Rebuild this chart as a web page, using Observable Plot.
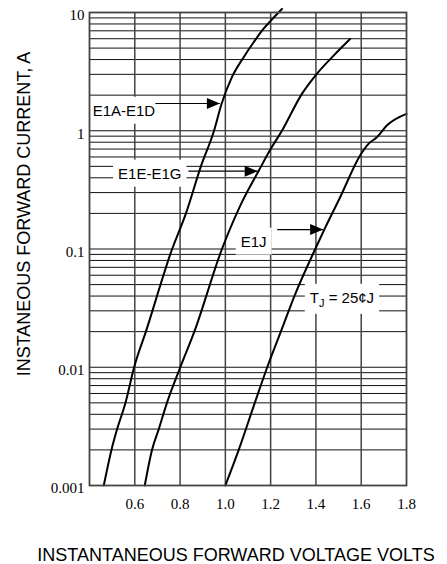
<!DOCTYPE html>
<html><head><meta charset="utf-8">
<script src="https://cdn.jsdelivr.net/npm/d3@7"></script>
<script src="https://cdn.jsdelivr.net/npm/@observablehq/plot@0.6"></script>
<style>body{margin:0;background:#fff} svg{display:block}</style>
</head><body><div id="chart"></div>
<script>
// Curve data (forward voltage V, forward current A)
const seriesNames = ["E1A-E1D", "E1E-E1G", "E1J"];
const vE1A = [0.463, 0.497, 0.522, 0.559, 0.597, 0.649, 0.765, 0.826, 0.892, 0.950, 0.982, 1.029, 1.081, 1.125, 1.169, 1.195, 1.250];
const iE1A = [0.001, 0.002, 0.003, 0.005, 0.010, 0.020, 0.100, 0.200, 0.500, 1.00, 1.66, 2.84, 4.19, 5.60, 7.30, 8.30, 10.7];
const vE1E = [0.644, 0.676, 0.706, 0.742, 0.801, 0.863, 0.985, 1.066, 1.148, 1.200, 1.250, 1.338, 1.404, 1.478, 1.551];
const iE1E = [0.001, 0.002, 0.003, 0.005, 0.010, 0.020, 0.100, 0.233, 0.461, 0.700, 1.00, 2.05, 3.03, 4.32, 5.98];
const vE1J = [1.000, 1.059, 1.130, 1.185, 1.245, 1.305, 1.397, 1.440, 1.507, 1.595, 1.632, 1.669, 1.713, 1.800];
const iE1J = [0.001, 0.002, 0.005, 0.010, 0.020, 0.040, 0.100, 0.150, 0.274, 0.618, 0.775, 0.880, 1.107, 1.390];

// Axis ticks and grid values
const xTicks = [0.6, 0.8, 1.0, 1.2, 1.4, 1.6, 1.8];
const xGrid = [0.6, 0.8, 1.0, 1.2, 1.4, 1.6];
const yTicks = [0.001, 0.01, 0.1, 1, 10];
const yGrid = [0.002, 0.003, 0.004, 0.005, 0.006, 0.007, 0.008, 0.009,
  0.01, 0.02, 0.03, 0.04, 0.05, 0.06, 0.07, 0.08, 0.09,
  0.1, 0.2, 0.3, 0.4, 0.5, 0.6, 0.7, 0.8, 0.9,
  1, 2, 3, 4, 5, 6, 7, 8, 9];

// Annotations
const labelText = ["E1A-E1D", "E1E-E1G", "E1J", "T_J = 25¢J"];
const labelV = [0.552, 0.666, 1.125, 1.515];
const labelI = [1.47, 0.432, 0.115, 0.0385];
const arrowV1 = [0.691, 0.837, 1.229];
const arrowV2 = [0.976, 1.143, 1.432];
const arrowI = [1.70, 0.455, 0.146];

const xTitle = "INSTANTANEOUS FORWARD VOLTAGE VOLTS";
const yTitle = "INSTANEOUS FORWARD CURRENT, A";

const rows = [];
[[vE1A, iE1A], [vE1E, iE1E], [vE1J, iE1J]].forEach(([vs, is], k) =>
  vs.forEach((v, j) => rows.push({series: seriesNames[k], v, i: is[j]})));
const labels = labelText.map((t, k) => ({t, v: labelV[k], i: labelI[k]}));
const arrows = arrowV1.map((v1, k) => ({v1, v2: arrowV2[k], i: arrowI[k]}));

const headRight = {
  draw(ctx, size) {
    const s = Math.sqrt(size);
    ctx.moveTo(0, 0);
    ctx.lineTo(-1.6 * s, -0.68 * s);
    ctx.lineTo(-1.6 * s, 0.68 * s);
    ctx.closePath();
  }
};

const sans = "'Liberation Sans', Arial, sans-serif";
const chart = Plot.plot({
  width: 447,
  height: 564,
  marginLeft: 89,
  marginRight: 41,
  marginTop: 12,
  marginBottom: 79,
  style: {background: "#fff", color: "#000", fontFamily: "'Liberation Serif', serif", fontSize: "15px"},
  x: {domain: [0.4, 1.8]},
  y: {type: "log", domain: [0.001, 10]},
  marks: [
    Plot.ruleY(yGrid, {stroke: "#111", strokeWidth: 1}),
    Plot.ruleX(xGrid, {stroke: "#444", strokeWidth: 1.5}),
    Plot.line(rows, {x: "v", y: "i", z: "series", stroke: "#000", strokeWidth: 2, curve: "monotone-x"}),
    Plot.link(arrows, {x1: "v1", x2: "v2", y1: "i", y2: "i", stroke: "#000", strokeWidth: 1.2}),
    Plot.dot(arrows, {x: "v2", y: "i", symbol: headRight, r: 4.6, fill: "#000", stroke: "none"}),
    Plot.frame({stroke: "#444", strokeWidth: 1.8}),
    Plot.axisX({ticks: xTicks, tickFormat: d => d.toFixed(1), tickSize: 0, tickPadding: 13, label: null, fontSize: 15}),
    Plot.axisY({ticks: yTicks, tickFormat: d => String(d), tickSize: 0, tickPadding: 5, dy: 3, label: null, fontSize: 15}),
    Plot.text(labels, {x: "v", y: "i", text: "t", fill: "#000", fontFamily: sans, fontSize: 15}),
    Plot.text([xTitle], {frameAnchor: "bottom", textAnchor: "middle", lineAnchor: "middle", dx: -12, dy: 70, fill: "#000", fontFamily: sans, fontSize: 18}),
    Plot.text([yTitle], {frameAnchor: "left", textAnchor: "middle", lineAnchor: "middle", rotate: -90, dx: -65, dy: -35, fill: "#000", fontFamily: sans, fontSize: 18})
  ]
});
document.getElementById("chart").append(chart);

// Subscript in T_J label and white boxes behind annotation labels
const ns = "http://www.w3.org/2000/svg";
const texts = [...chart.querySelectorAll("text")].filter(t => labelText.includes(t.textContent));
texts.forEach(t => {
  const s = t.textContent;
  const u = s.indexOf("_");
  if (u >= 0) {
    t.textContent = "";
    const a = document.createElementNS(ns, "tspan"); a.textContent = s.slice(0, u);
    const b = document.createElementNS(ns, "tspan"); b.textContent = s[u + 1];
    b.setAttribute("font-size", "11"); b.setAttribute("dy", "4");
    const c = document.createElementNS(ns, "tspan"); c.textContent = s.slice(u + 2);
    c.setAttribute("dy", "-4");
    t.append(a, b, c);
  }
});
const origin = chart.getBoundingClientRect();
const boxes = document.createElementNS(ns, "g");
texts.forEach(t => {
  const r = t.getBoundingClientRect();
  const rect = document.createElementNS(ns, "rect");
  rect.setAttribute("x", r.left - origin.left - 5);
  rect.setAttribute("y", r.top - origin.top - 5);
  rect.setAttribute("width", r.width + 10);
  rect.setAttribute("height", r.height + 10);
  rect.setAttribute("fill", "#fff");
  boxes.append(rect);
});
const lineGroup = chart.querySelector('g[aria-label="line"]');
lineGroup.parentNode.insertBefore(boxes, lineGroup);
</script>
</body></html>
